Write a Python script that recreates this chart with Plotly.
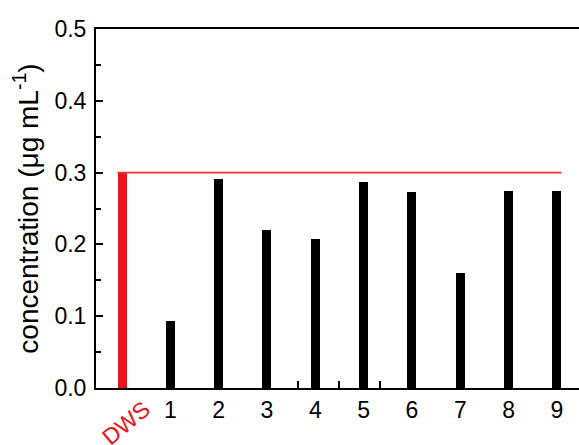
import plotly.graph_objects as go

categories = ["DWS", "1", "2", "3", "4", "5", "6", "7", "8", "9"]
values = [0.300, 0.094, 0.291, 0.220, 0.207, 0.287, 0.273, 0.160, 0.274, 0.275]
bar_colors = ["#e8151d"] + ["#000000"] * 9
y_ticks = [0.0, 0.1, 0.2, 0.3, 0.4, 0.5]
x_odd_ticks = [3.64, 4.49, 5.34]

x_pos = list(range(len(categories)))
bar_w = 0.186
dws_value = values[0]

font_family = "Arial, 'Liberation Sans', sans-serif"

fig = go.Figure()
fig.add_trace(go.Bar(
    x=x_pos, y=values, width=bar_w,
    marker=dict(color=bar_colors, line=dict(width=0)),
    showlegend=False,
))
fig.add_trace(go.Scatter(
    x=[x_pos[0] - bar_w / 2, x_pos[-1] + bar_w / 2],
    y=[dws_value, dws_value],
    mode="lines",
    line=dict(color="#ee3036", width=1.6),
    showlegend=False,
))

fig.add_annotation(
    x=x_pos[0] + 0.08, y=-0.097, xref="x", yref="paper",
    text="DWS", showarrow=False, textangle=-40,
    font=dict(family=font_family, size=23, color="#e8151d"),
    xanchor="center", yanchor="middle",
)

fig.update_layout(
    width=579, height=445,
    margin=dict(l=96, r=0, t=29, b=57),
    paper_bgcolor="white", plot_bgcolor="white",
    font=dict(family=font_family, size=22, color="black"),
    bargap=0,
    xaxis=dict(
        range=[-0.538, 9.456],
        tickvals=x_pos[1:], ticktext=categories[1:],
        ticks="", ticklen=0,
        showline=True, linecolor="black", linewidth=2, mirror=True,
        showgrid=False, zeroline=False, automargin=False,
        tickfont=dict(size=23),
        minor=dict(tickvals=x_odd_ticks, ticks="inside", ticklen=7,
                   tickwidth=1.5, tickcolor="black", showgrid=False),
    ),
    yaxis=dict(
        range=[0, 0.5],
        tickvals=y_ticks, tickformat=".1f",
        ticks="inside", ticklen=7, tickwidth=1.5, tickcolor="black",
        showline=True, linecolor="black", linewidth=2, mirror=False,
        showgrid=False, zeroline=False, automargin=False,
        tickfont=dict(size=23), ticklabelstandoff=3,
        minor=dict(dtick=0.05, ticks="inside", ticklen=5, tickwidth=1.5,
                   tickcolor="black", showgrid=False),
        title=dict(text="concentration (μg mL<sup>-1</sup>)",
                   font=dict(size=28), standoff=8),
    ),
)

fig.write_html(
    "out.html",
    config={"displayModeBar": False},
    post_script="document.body.style.margin='0';document.body.style.overflow='hidden';",
)
